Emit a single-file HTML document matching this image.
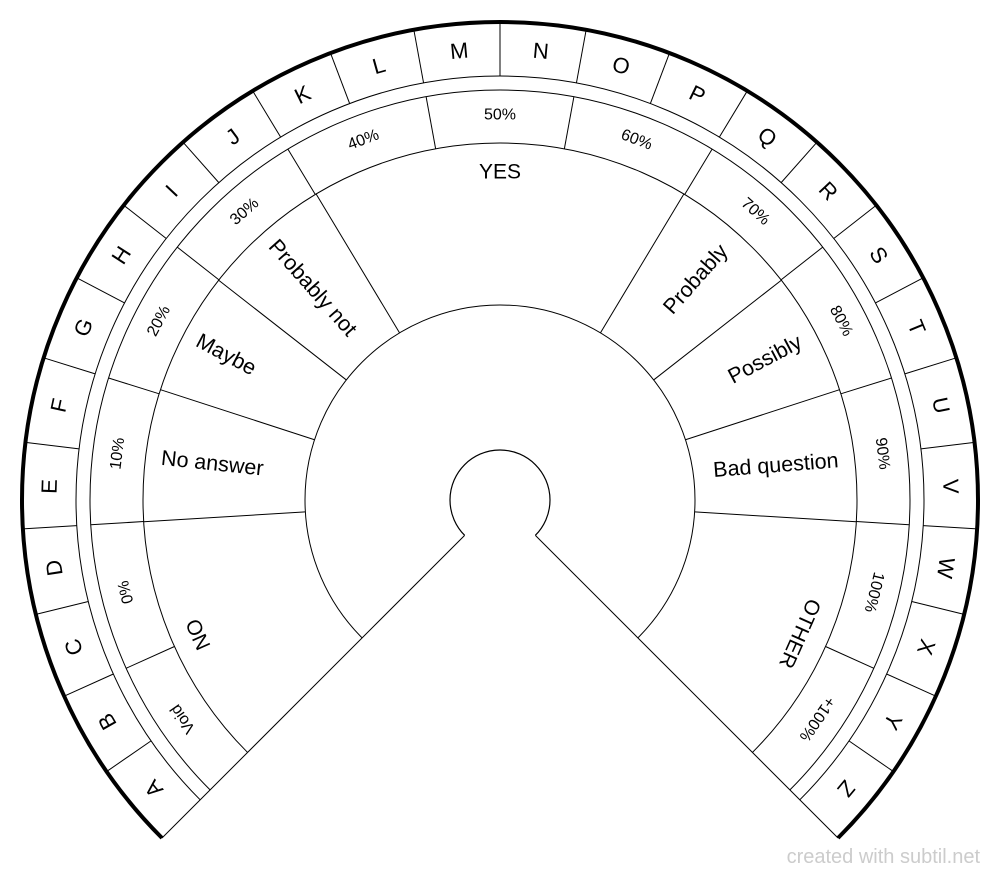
<!DOCTYPE html>
<html><head><meta charset="utf-8">
<style>
html,body{margin:0;padding:0;background:#fff;width:1000px;height:877px;overflow:hidden}
svg{display:block}
text{font-family:"Liberation Sans",sans-serif;fill:#000}
</style></head>
<body>
<svg id="s" width="1000" height="877" viewBox="0 0 1000 877" xmlns="http://www.w3.org/2000/svg">
<text x="980" y="863" text-anchor="end" style="font-size:20px;fill:#cccccc">created with subtil.net</text>
</svg>
<script>
var s=document.getElementById('s'),C=500,NS='http://www.w3.org/2000/svg';
function P(r,a){var t=a*Math.PI/180;return [C+r*Math.cos(t),C-r*Math.sin(t)];}
function el(n,at,txt){var e=document.createElementNS(NS,n);for(var k in at)e.setAttribute(k,at[k]);if(txt)e.textContent=txt;s.appendChild(e);return e;}
function arc(r,w){var a=P(r,225),b=P(r,-45);el('path',{d:'M'+a[0]+' '+a[1]+' A'+r+' '+r+' 0 1 1 '+b[0]+' '+b[1],fill:'none',stroke:'#000','stroke-width':w});}
function rad(r1,r2,a){var p=P(r1,a),q=P(r2,a);el('line',{x1:p[0],y1:p[1],x2:q[0],y2:q[1],stroke:'#000','stroke-width':1});}
function txt(r,a,rot,size,t){var p=P(r,a);el('text',{x:p[0],y:p[1],'text-anchor':'middle','dominant-baseline':'central','font-size':size,transform:'rotate('+rot+' '+p[0]+' '+p[1]+')'},t);}
arc(424,1);arc(410,1);arc(357,1);arc(195,1);arc(50,1.2);
rad(50,478,225);rad(50,478,-45);
var L='ABCDEFGHIJKLMNOPQRSTUVWXYZ',d=270/26;
for(var i=0;i<26;i++){if(i>0)rad(424,478,225-i*d);var a=225-(i+0.5)*d;txt(451,a,90-a,22,L[i]);}
var Pc=['Void','0%','10%','20%','30%','40%','50%','60%','70%','80%','90%','100%','+100%'],e=270/13;
for(i=0;i<13;i++){if(i>0)rad(357,410,225-i*e);a=225-(i+0.5)*e;txt(385,a,90-a,16,Pc[i]);}
var B=[183.5,162,142,121,59,38,18,-3.5];B.forEach(function(b){rad(195,357,b);});
txt(328,90,0,21,'YES');
txt(330,204,90-204,21,'NO');
txt(328,-24,114,21,'OTHER');
txt(283,131.4,48.5,21.5,'Probably not');
txt(310,152,28,21.5,'Maybe');
txt(290,172.7,6,21.5,'No answer');
txt(295,48.5,-48.5,21.5,'Probably');
txt(300,28,-28,21.5,'Possibly');
txt(278,7.2,-4.5,21.5,'Bad question');
arc(478,4);
</script>
</body></html>
